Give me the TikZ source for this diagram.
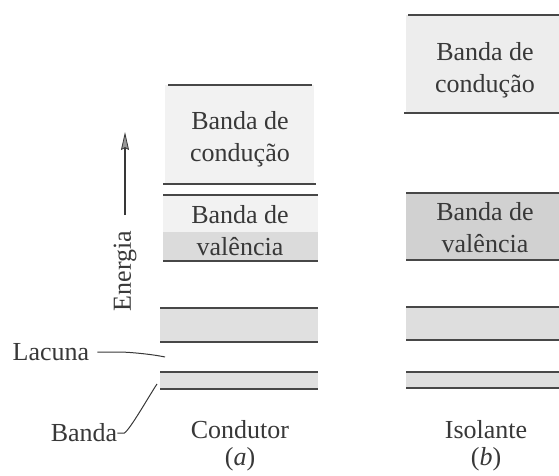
\documentclass[tikz,border=0pt]{standalone}
\usepackage{fontspec}
\setmainfont{Liberation Serif}
\usetikzlibrary{arrows.meta}
\definecolor{ink}{gray}{0.22}
\definecolor{lineink}{gray}{0.28}
\definecolor{condA}{gray}{0.95}
\definecolor{valA}{gray}{0.86}
\definecolor{lowA}{gray}{0.88}
\definecolor{condB}{gray}{0.93}
\definecolor{valB}{gray}{0.82}
\definecolor{lowB}{gray}{0.87}
\begin{document}
\begin{tikzpicture}[x=1pt,y=-1pt,
  bandline/.style={draw=lineink, line width=1.5pt},
  lbl/.style={font=\fontsize{26}{32}\selectfont, text=ink, align=center, inner sep=0pt},
  conn/.style={draw=ink, line width=1pt}]
\useasboundingbox (0,0) rectangle (559,476);
% ---------- (a) Condutor ----------
\fill[condA] (165,85) rectangle (314,184);
\draw[bandline] (168,85) -- (312,85);
\draw[bandline] (163,184) -- (316,184);
\fill[condA] (163,195) rectangle (318,232);
\fill[valA] (163,232) rectangle (318,261);
\draw[bandline] (163,195) -- (318,195);
\draw[bandline] (163,261) -- (318,261);
\fill[lowA] (160,308) rectangle (318,342);
\draw[bandline] (160,308) -- (318,308);
\draw[bandline] (160,342) -- (318,342);
\fill[lowA] (160,372) rectangle (318,389);
\draw[bandline] (160,372) -- (318,372);
\draw[bandline] (160,389) -- (318,389);
\node[lbl] (condA) at (240,139) {Banda de\\condução};
\node[lbl] (valA) at (240,231) {Banda de\\valência};
\node[lbl] (condutor) at (240,430) {Condutor};
\node[lbl] (capa) at (240,459) {(\textit{a})};
% energy arrow
\coordinate (etail) at (125,215);
\coordinate (etip) at (125,132);
\draw[line width=1.2pt, draw=ink, -{Stealth[length=18pt,width=8pt,inset=2pt,fill=black!40,color=ink,line width=0.8pt]}] (etail) -- (etip);
\node[lbl, rotate=90] (energia) at (125,271) {Energia};
% Lacuna
\node[lbl] (lacuna) at (51,352) {Lacuna};
\coordinate (lacend) at (165,357);
\draw[conn] (lacuna.east) ++(8pt,0) coordinate (lacstart) -- ++(22,0) .. controls +(8,0) and +(-14,-3) .. (lacend);
% Banda
\node[lbl] (banda) at (84,433) {Banda};
\coordinate (bandend) at (157,384);
\draw[conn] (banda.east) -- ++(7,0) .. controls +(6,-4) and +(-8,12) .. (bandend);
% ---------- (b) Isolante ----------
\fill[condB] (406,15) rectangle (559,113);
\draw[bandline] (408,15) -- (559,15);
\draw[bandline] (404,113) -- (559,113);
\fill[valB] (406,193) rectangle (559,260);
\draw[bandline] (406,193) -- (559,193);
\draw[bandline] (406,260) -- (559,260);
\fill[lowB] (406,307) rectangle (559,340);
\draw[bandline] (406,307) -- (559,307);
\draw[bandline] (406,340) -- (559,340);
\fill[lowB] (406,372) rectangle (559,388);
\draw[bandline] (406,372) -- (559,372);
\draw[bandline] (406,388) -- (559,388);
\node[lbl] (condB) at (485,70) {Banda de\\condução};
\node[lbl] (valB) at (485,228) {Banda de\\valência};
\node[lbl] (isolante) at (486,430) {Isolante};
\node[lbl] (capb) at (486,459) {(\textit{b})};
\end{tikzpicture}
\end{document}
